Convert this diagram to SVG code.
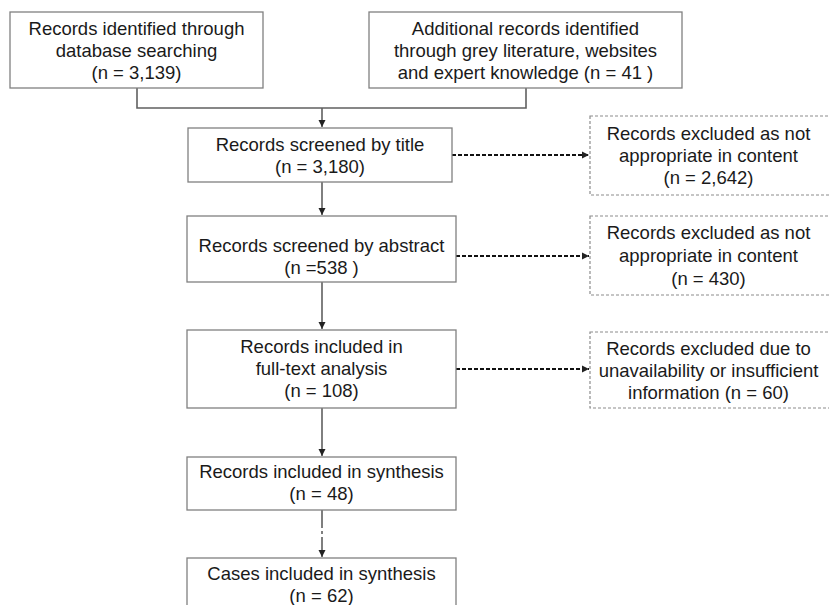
<svg xmlns="http://www.w3.org/2000/svg" width="829" height="605" viewBox="0 0 829 605">
<defs>
<style>
.box{fill:#fff;stroke:#808080;stroke-width:1.3}
.dbox{fill:#fff;stroke:#8c8c8c;stroke-width:1.2;stroke-dasharray:3,2}
text{font-family:"Liberation Sans",Arial,sans-serif;font-size:18.5px;fill:#1a1a1a;text-anchor:middle}
.ln{fill:none;stroke:#606060;stroke-width:1.6}
.dl{fill:none;stroke:#111;stroke-width:1.8;stroke-dasharray:4,2}
</style>
<marker id="ah" markerWidth="8" markerHeight="8" refX="7" refY="4" orient="auto" markerUnits="userSpaceOnUse">
<path d="M0,0.5 L7,4 L0,7.5 Z" fill="#222"/>
</marker>
</defs>
<rect width="829" height="605" fill="#fff"/>
<g id="connectors">
<path class="ln" d="M137,88 V108 H526 V88" stroke="#909090" stroke-width="1.3"/>
<path class="ln" d="M322,108 V127" marker-end="url(#ah)"/>
<path class="ln" d="M322,182 V215" marker-end="url(#ah)"/>
<path class="ln" d="M322,282 V329" marker-end="url(#ah)"/>
<path class="ln" d="M322,408 V456" stroke="#111" stroke-width="2" marker-end="url(#ah)"/>
<path class="ln" d="M322,510 V528 M322,531 V534 M322,537 V557" stroke="#111" stroke-width="2" marker-end="url(#ah)"/>
<path class="dl" d="M452,155 H589" marker-end="url(#ah)"/>
<path class="dl" d="M456,256 H589" marker-end="url(#ah)"/>
<path class="dl" d="M456,369 H589" marker-end="url(#ah)"/>
</g>
<g id="n1"><rect class="box" x="10" y="12" width="253" height="76"/>
<text x="136.5" y="35">Records identified through</text><text x="136.5" y="57">database searching</text><text x="136.5" y="79">(n = 3,139)</text></g>
<g id="n2"><rect class="box" x="369" y="12" width="313" height="76"/>
<text x="525.5" y="35">Additional records identified</text><text x="525.5" y="57">through grey literature, websites</text><text x="525.5" y="79">and expert knowledge (n = 41 )</text></g>
<g id="n3"><rect class="box" x="188" y="128" width="264" height="54"/>
<text x="320" y="151">Records screened by title</text><text x="320" y="173">(n = 3,180)</text></g>
<g id="n4"><rect class="box" x="187" y="216" width="269" height="66"/>
<text x="321.5" y="252">Records screened by abstract</text><text x="321.5" y="274">(n =538 )</text></g>
<g id="n5"><rect class="box" x="187" y="330" width="269" height="78"/>
<text x="321.5" y="353">Records included in</text><text x="321.5" y="375">full-text analysis</text><text x="321.5" y="397">(n = 108)</text></g>
<g id="n6"><rect class="box" x="187" y="457" width="269" height="53"/>
<text x="321.5" y="478">Records included in synthesis</text><text x="321.5" y="500">(n = 48)</text></g>
<g id="n7"><rect class="box" x="187" y="558" width="269" height="60"/>
<text x="321.5" y="580">Cases included in synthesis</text><text x="321.5" y="602">(n = 62)</text></g>
<g id="e1"><rect class="dbox" x="590" y="116" width="245" height="79"/>
<text x="708.5" y="140">Records excluded as not</text><text x="708.5" y="162">appropriate in content</text><text x="708.5" y="184">(n = 2,642)</text></g>
<g id="e2"><rect class="dbox" x="590" y="216" width="245" height="79"/>
<text x="708.5" y="239">Records excluded as not</text><text x="708.5" y="262">appropriate in content</text><text x="708.5" y="285">(n = 430)</text></g>
<g id="e3"><rect class="dbox" x="590" y="332" width="245" height="76"/>
<text x="708.5" y="355">Records excluded due to</text><text x="708.5" y="377">unavailability or insufficient</text><text x="708.5" y="399">information (n = 60)</text></g>
</svg>
